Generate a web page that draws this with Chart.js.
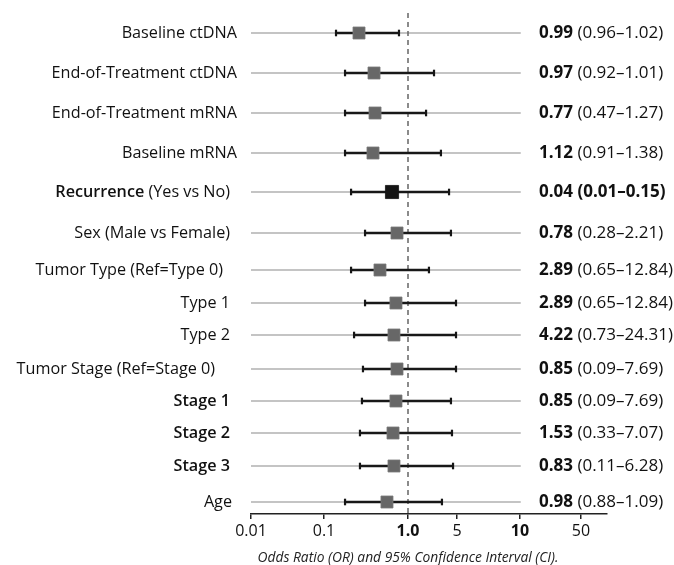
<!DOCTYPE html>
<html>
<head>
<meta charset="utf-8">
<script src="https://cdn.jsdelivr.net/npm/chart.js@4.4.1/dist/chart.umd.min.js"></script>
<style>
  html, body { margin: 0; padding: 0; background: #ffffff; }
  #wrap { width: 674px; height: 565px; }
</style>
</head>
<body>
<div id="wrap"><canvas id="c" width="674" height="565"></canvas></div>
<script>
// ---------- data ----------
const labels = [
  'Baseline ctDNA', 'End-of-Treatment ctDNA', 'End-of-Treatment mRNA', 'Baseline mRNA',
  'Recurrence (Yes vs No)', 'Sex (Male vs Female)', 'Tumor Type (Ref=Type 0)', 'Type 1', 'Type 2',
  'Tumor Stage (Ref=Stage 0)', 'Stage 1', 'Stage 2', 'Stage 3', 'Age'
];
const labelBoldPart = ['', '', '', '', 'Recurrence', '', '', '', '', '', 'Stage 1', 'Stage 2', 'Stage 3', ''];
const orText = ['0.99', '0.97', '0.77', '1.12', '0.04', '0.78', '2.89', '2.89', '4.22', '0.85', '0.85', '1.53', '0.83', '0.98'];
const ciText = ['0.96–1.02', '0.92–1.01', '0.47–1.27', '0.91–1.38', '0.01–0.15', '0.28–2.21', '0.65–12.84',
  '0.65–12.84', '0.73–24.31', '0.09–7.69', '0.09–7.69', '0.33–7.07', '0.11–6.28', '0.88–1.09'];
const ciBold = [false, false, false, false, true, false, false, false, false, false, false, false, false, false];
// plotted marker positions and whisker ends (as drawn in the figure, OR scale)
const plotOR = [0.261, 0.394, 0.405, 0.383, 0.645, 0.740, 0.464, 0.719, 0.681, 0.740, 0.719, 0.663, 0.681, 0.562];
const plotLo = [0.139, 0.178, 0.178, 0.178, 0.210, 0.308, 0.210, 0.308, 0.228, 0.291, 0.283, 0.268, 0.268, 0.178];
const plotHi = [0.781, 2.35, 1.81, 2.95, 3.85, 4.10, 1.99, 4.84, 4.84, 4.84, 4.10, 4.24, 4.39, 3.05];
const highlight = [false, false, false, false, true, false, false, false, false, false, false, false, false, false];
// axis ticks
const tickVals = [0.01, 0.1, 1, 5, 10, 50];
const tickLabels = ['0.01', '0.1', '1.0', '5', '10', '50'];
const tickBold = [false, false, true, false, true, false];
const refLineOR = 1;
const rangeLo = 0.01, rangeHi = 10.2;

// ---------- layout ----------
const tickPos = [0, 73, 157, 206, 269, 330];   // axis units for each tick (uneven spacing of original axis)
const xMax = 356;
const rowY = [20, 60, 100, 140, 179, 220, 257, 290, 322, 356, 388, 420, 453, 489];
const yMax = 501;
const labelRight = [237, 237, 237, 237, 230, 230, 223, 230, 230, 215, 230, 230, 230, 232];
const rightTextX = 539;
const FONT = "'Open Sans', 'Noto Sans', sans-serif";
const LEFT_SIZE = 16.2, RIGHT_SIZE = 17;

function pos(v) {
  const lv = Math.log10(v);
  let i = 0;
  while (i < tickVals.length - 2 && v > tickVals[i + 1]) i++;
  const a = Math.log10(tickVals[i]), b = Math.log10(tickVals[i + 1]);
  return tickPos[i] + (lv - a) / (b - a) * (tickPos[i + 1] - tickPos[i]);
}

const datasets = [];
// squares
datasets.push({
  type: 'scatter', order: 0,
  data: plotOR.map((v, i) => ({ x: pos(v), y: rowY[i] })),
  pointStyle: 'rect',
  pointRadius: plotOR.map((v, i) => highlight[i] ? 9.3 : 8.5),
  backgroundColor: plotOR.map((v, i) => highlight[i] ? '#141414' : '#676767'),
  borderColor: plotOR.map((v, i) => highlight[i] ? '#141414' : '#7a7a7a'),
  borderWidth: 0.8
});
// caps
datasets.push({
  type: 'scatter', order: 1,
  data: plotLo.flatMap((v, i) => [{ x: pos(v), y: rowY[i] }, { x: pos(plotHi[i]), y: rowY[i] }]),
  pointStyle: 'line', rotation: 90, pointRadius: 3.3,
  borderColor: '#151515', borderWidth: 2.2, backgroundColor: '#151515'
});
// whiskers
plotLo.forEach((v, i) => {
  datasets.push({
    type: 'line', order: 2,
    data: [{ x: pos(v), y: rowY[i] }, { x: pos(plotHi[i]), y: rowY[i] }],
    borderColor: '#181818', borderWidth: 2.6, pointRadius: 0, fill: false
  });
});
// reference dashed line
datasets.push({
  type: 'line', order: 3,
  data: [{ x: pos(refLineOR), y: 0 }, { x: pos(refLineOR), y: yMax }],
  borderColor: '#666666', borderWidth: 1.5, borderDash: [5, 4], pointRadius: 0, fill: false
});
// grey background lines
rowY.forEach((y) => {
  datasets.push({
    type: 'line', order: 4,
    data: [{ x: pos(rangeLo), y: y }, { x: pos(rangeHi), y: y }],
    borderColor: '#b0b0b0', borderWidth: 1.4, pointRadius: 0, fill: false
  });
});

const textPlugin = {
  id: 'forestText',
  afterDraw(chart) {
    const ctx = chart.ctx;
    const ys = chart.scales.y, xs = chart.scales.x;
    ctx.save();
    ctx.textBaseline = 'middle';
    ctx.fillStyle = '#111';
    labels.forEach((lab, i) => {
      const y = ys.getPixelForValue(rowY[i]) + 0.5;
      const bp = labelBoldPart[i];
      const rest = lab.slice(bp.length);
      ctx.font = `${LEFT_SIZE}px ${FONT}`;
      const wRest = ctx.measureText(rest).width;
      ctx.textAlign = 'left';
      let xStart;
      if (bp) {
        ctx.font = `600 ${LEFT_SIZE}px ${FONT}`;
        const wB = ctx.measureText(bp).width;
        xStart = labelRight[i] - wRest - wB;
        ctx.fillText(bp, xStart, y);
        xStart += wB;
      } else {
        xStart = labelRight[i] - wRest;
      }
      ctx.font = `${LEFT_SIZE}px ${FONT}`;
      ctx.fillText(rest, xStart, y);

      // right column
      let x = rightTextX;
      ctx.font = `bold ${RIGHT_SIZE}px ${FONT}`;
      ctx.fillText(orText[i], x, y);
      x += ctx.measureText(orText[i]).width;
      ctx.font = (ciBold[i] ? 'bold ' : '') + `${RIGHT_SIZE}px ${FONT}`;
      ctx.fillText(' (' + ciText[i] + ')', x, y);
    });
    // axis title
    ctx.font = `italic 13.8px ${FONT}`;
    ctx.textAlign = 'center';
    ctx.fillStyle = '#222';
    ctx.fillText('Odds Ratio (OR) and 95% Confidence Interval (CI).', xs.getPixelForValue(pos(refLineOR)), 558);
    ctx.restore();
  }
};

new Chart(document.getElementById('c'), {
  data: { datasets },
  options: {
    responsive: false,
    animation: false,
    events: [],
    layout: { padding: { left: 251, right: 67, top: 13, bottom: 0 } },
    plugins: { legend: { display: false }, tooltip: { enabled: false } },
    scales: {
      x: {
        type: 'linear', min: 0, max: xMax,
        afterBuildTicks: (s) => { s.ticks = tickPos.map(v => ({ value: v })); },
        afterFit: (s) => { s.height = 51; },
        ticks: {
          autoSkip: false, maxRotation: 0, padding: 3, color: '#111',
          callback: (val, idx) => tickLabels[idx],
          font: (c) => ({ family: FONT, size: 16, weight: tickBold[c.index] ? 'bold' : 'normal' })
        },
        grid: { drawOnChartArea: false, drawTicks: true, tickLength: 5, color: '#222', lineWidth: 1.5 },
        border: { display: true, color: '#222', width: 1.5 }
      },
      y: { type: 'linear', display: false, min: 0, max: yMax, reverse: true }
    }
  },
  plugins: [textPlugin]
});
</script>
</body>
</html>
